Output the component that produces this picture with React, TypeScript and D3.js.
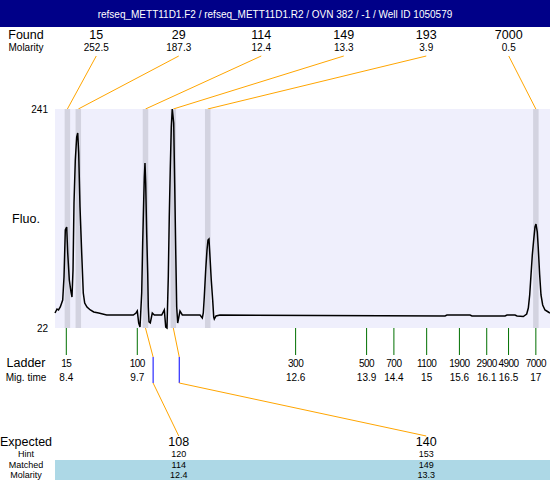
import React from "react";
import * as d3 from "d3";

// Electropherogram of one well: trace, found peaks, ladder and expected fragments.
const TITLE = "refseq_METT11D1.F2 / refseq_METT11D1.R2 / OVN 382 / -1 / Well ID 1050579";

const foundSizes = [15, 29, 114, 149, 193, 7000];
const foundMolarity = [252.5, 187.3, 12.4, 13.3, 3.9, 0.5];
const foundTimes = [8.42, 8.62, 9.85, 10.36, 10.99, 17.0];

const ladderSizes = [15, 100, 300, 500, 700, 1100, 1900, 2900, 4900, 7000];
const ladderTimes = [8.4, 9.7, 12.6, 13.9, 14.4, 15, 15.6, 16.1, 16.5, 17];

const expectedSizes = [108, 140];
const hintSizes = [120, 153];
const matchedSizes = [114, 149];
const matchedMolarity = [12.4, 13.3];

const fluoExtent = [22, 241];
const timeExtent = [8.193, 17.259];

// Fluorescence trace (migration time, fluorescence units)
const traceTimes = [
  8.193, 8.23, 8.257, 8.29, 8.334, 8.358, 8.382, 8.407, 8.426, 8.455, 8.486, 8.504,
  8.523, 8.541, 8.565, 8.59, 8.609, 8.627, 8.651, 8.682, 8.711, 8.737, 8.779, 8.84,
  8.902, 8.993, 9.14, 9.627, 9.677, 9.7, 9.726, 9.75, 9.781, 9.799, 9.818, 9.829,
  9.841, 9.854, 9.872, 9.891, 9.902, 9.915, 9.938, 9.975, 10.012, 10.147, 10.195,
  10.221, 10.244, 10.268, 10.286, 10.305, 10.323, 10.341, 10.367, 10.385, 10.404,
  10.422, 10.44, 10.482, 10.525, 10.849, 10.891, 10.909, 10.927, 10.953, 10.977,
  10.995, 11.013, 11.032, 11.055, 11.081, 11.1, 11.111, 11.142, 11.215, 15.336,
  15.372, 15.794, 15.83, 16.435, 16.472, 16.618, 16.655, 16.77, 16.832, 16.862,
  16.887, 16.911, 16.935, 16.96, 16.984, 17.002, 17.026, 17.044, 17.07, 17.094,
  17.125, 17.167, 17.228, 17.259,
];
const traceFluo = [
  37, 41, 40, 43, 50, 73, 120, 123, 97, 70, 58, 53,
  80, 147, 190, 213, 217, 197, 143, 97, 57, 47, 43, 40,
  38, 37, 35, 35, 37, 39, 27, 23, 57, 107, 150, 173,
  187, 167, 117, 77, 43, 28, 27, 37, 35, 35, 40,
  23, 22, 73, 133, 183, 223, 241, 227, 167, 100,
  43, 27, 39, 35, 35, 32, 37, 53, 80, 100,
  110, 111, 93, 70, 50, 33, 31, 34, 35, 34,
  35, 35, 34, 34, 35, 35, 34, 33.5, 36, 42,
  55, 75, 95, 110, 123, 126, 118, 102, 75, 55,
  45, 40, 38, 37,
];

const W = 550;
const H = 480;
const plot = { left: 55, right: 550, top: 109, bottom: 328 };
const FONT = "'Liberation Sans', Arial, sans-serif";
const ORANGE = "#FFA500";
const LABEL_X = 26;

export default function App() {
  const x = d3.scaleLinear().domain(timeExtent).range([plot.left, plot.right]);
  const y = d3.scaleLinear().domain(fluoExtent).range([plot.bottom, plot.top]);
  const slots = d3.scaleBand<number>().domain(d3.range(foundSizes.length)).range([plot.left, plot.right]);
  const expSlots = d3.scaleBand<number>().domain(d3.range(expectedSizes.length)).range([plot.left, plot.right]);
  const sizeToTime = d3.scaleLinear().domain(ladderSizes).range(ladderTimes);

  const trace = traceTimes.map((t, i) => [t, traceFluo[i]] as [number, number]);
  const line = d3.line<[number, number]>().x((d) => x(d[0])).y((d) => y(d[1]));

  const slotX = (i: number) => (slots(i) as number) + slots.bandwidth() / 2;
  const expX = (i: number) => (expSlots(i) as number) + expSlots.bandwidth() / 2;

  const topRowY = 35;
  const molRowY = 47;
  const lineTopY = 56;
  const tickEnd = 355;
  const ladderY = 363;
  const migY = 377;
  const hintTop = 357;
  const hintBottom = 383;
  const expLineY = 436;
  const expY = 442;
  const hintY = 454.3;
  const matchY = 464.6;
  const matchMolY = 474.9;

  const small = 9;

  return (
    <svg
      width={W}
      height={H}
      style={{ position: "absolute", left: 0, top: 0, display: "block", background: "#fff" }}
      fontFamily={FONT}
    >
      {/* title bar */}
      <rect x={0} y={0} width={W} height={27} fill="#000088" />
      <text x={W / 2} y={14} fill="#fff" fontSize={10} textAnchor="middle" dominantBaseline="central">
        {TITLE}
      </text>

      {/* found peaks header */}
      <text x={LABEL_X} y={topRowY} fontSize={12.5} textAnchor="middle" dominantBaseline="central">Found</text>
      <text x={LABEL_X} y={molRowY} fontSize={10} textAnchor="middle" dominantBaseline="central">Molarity</text>
      {foundSizes.map((s, i) => (
        <g key={"f" + i}>
          <text x={slotX(i)} y={topRowY} fontSize={12.5} textAnchor="middle" dominantBaseline="central">{s}</text>
          <text x={slotX(i)} y={molRowY} fontSize={10} textAnchor="middle" dominantBaseline="central">
            {foundMolarity[i].toFixed(1)}
          </text>
          <line x1={slotX(i)} y1={lineTopY} x2={x(foundTimes[i])} y2={plot.top} stroke={ORANGE} strokeWidth={1} />
        </g>
      ))}

      {/* plot area */}
      <rect x={plot.left} y={plot.top} width={plot.right - plot.left} height={plot.bottom - plot.top} fill="#EFEFFC" />
      {foundTimes.map((t, i) => (
        <rect key={"b" + i} x={x(t) - 2.75} y={plot.top} width={5.5} height={plot.bottom - plot.top} fill="#D3D3E0" />
      ))}
      <path d={line(trace) || ""} fill="none" stroke="#000" strokeWidth={1.5} strokeLinejoin="miter" />

      {/* fluorescence axis */}
      <text x={48} y={y(fluoExtent[1])} fontSize={10} textAnchor="end" dominantBaseline="central">{fluoExtent[1]}</text>
      <text x={48} y={y(fluoExtent[0])} fontSize={10} textAnchor="end" dominantBaseline="central">{fluoExtent[0]}</text>
      <text x={LABEL_X} y={(plot.top + plot.bottom) / 2} fontSize={12.5} textAnchor="middle" dominantBaseline="central">Fluo.</text>

      {/* ladder */}
      <text x={LABEL_X} y={ladderY} fontSize={12.5} textAnchor="middle" dominantBaseline="central">Ladder</text>
      <text x={LABEL_X} y={migY} fontSize={10} textAnchor="middle" dominantBaseline="central">Mig. time</text>
      {ladderSizes.map((s, i) => (
        <g key={"l" + i}>
          <line x1={x(ladderTimes[i])} y1={plot.bottom} x2={x(ladderTimes[i])} y2={tickEnd} stroke="#007000" strokeWidth={1} />
          <text x={x(ladderTimes[i])} y={ladderY} fontSize={10} letterSpacing={-0.5} textAnchor="middle" dominantBaseline="central">{s}</text>
          <text x={x(ladderTimes[i])} y={migY} fontSize={10} textAnchor="middle" dominantBaseline="central">{String(ladderTimes[i])}</text>
        </g>
      ))}

      {/* expected fragments */}
      <rect x={plot.left} y={460} width={plot.right - plot.left} height={20} fill="#ADD8E6" />
      <text x={LABEL_X} y={expY} fontSize={12.5} textAnchor="middle" dominantBaseline="central">Expected</text>
      <text x={LABEL_X} y={hintY} fontSize={small} textAnchor="middle" dominantBaseline="central">Hint</text>
      <text x={LABEL_X} y={matchY} fontSize={small} textAnchor="middle" dominantBaseline="central">Matched</text>
      <text x={LABEL_X} y={matchMolY} fontSize={small} textAnchor="middle" dominantBaseline="central">Molarity</text>
      {expectedSizes.map((s, i) => {
        const peakX = x(foundTimes[foundSizes.indexOf(matchedSizes[i])]);
        const hx = x(sizeToTime(hintSizes[i]));
        return (
          <g key={"e" + i}>
            <line x1={peakX} y1={plot.bottom} x2={hx} y2={hintTop} stroke={ORANGE} strokeWidth={1} />
            <line x1={hx} y1={hintTop} x2={hx} y2={hintBottom} stroke="#0000FF" strokeWidth={1} />
            <line x1={hx} y1={hintBottom} x2={expX(i)} y2={expLineY} stroke={ORANGE} strokeWidth={1} />
            <text x={expX(i)} y={expY} fontSize={12.5} textAnchor="middle" dominantBaseline="central">{s}</text>
            <text x={expX(i)} y={hintY} fontSize={small} textAnchor="middle" dominantBaseline="central">{hintSizes[i]}</text>
            <text x={expX(i)} y={matchY} fontSize={small} textAnchor="middle" dominantBaseline="central">{matchedSizes[i]}</text>
            <text x={expX(i)} y={matchMolY} fontSize={small} textAnchor="middle" dominantBaseline="central">
              {matchedMolarity[i].toFixed(1)}
            </text>
          </g>
        );
      })}
    </svg>
  );
}
